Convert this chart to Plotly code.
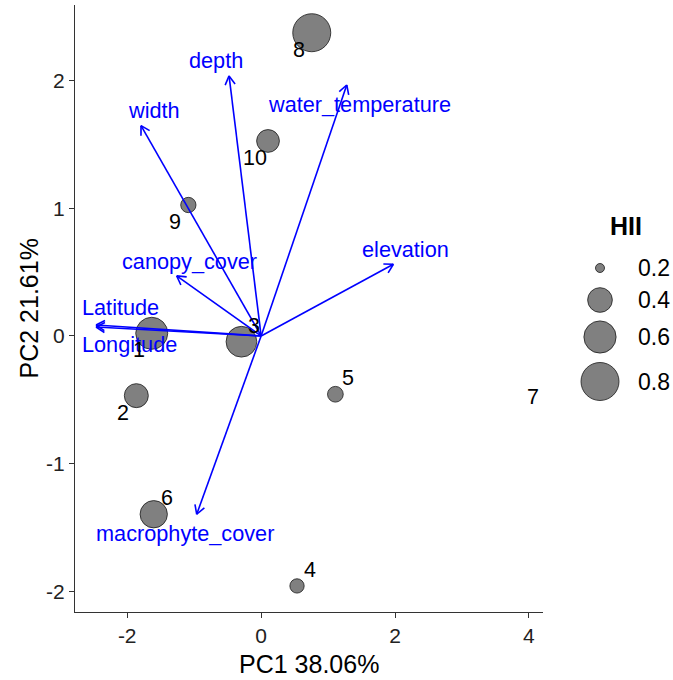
import math
import plotly.graph_objects as go

# ---------------- data ----------------
sites = ["1", "2", "3", "4", "5", "6", "7", "8", "9", "10"]
pc1 = [-1.634, -1.864, -0.294, 0.536, 1.109, -1.604, 3.870, 0.756, -1.087, 0.103]
pc2 = [0.021, -0.467, -0.045, -1.956, -0.456, -1.395, -0.600, 2.373, 1.025, 1.526]
hii = [0.594, 0.385, 0.555, 0.235, 0.250, 0.462, None, 0.800, 0.245, 0.360]

variables = ["depth", "width", "water_temperature", "elevation", "canopy_cover",
             "Latitude", "Longitude", "macrophyte_cover"]
load_pc1 = [-0.479, -1.794, 1.279, 1.975, -1.261, -2.466, -2.466, -0.962]
load_pc2 = [2.035, 1.646, 1.964, 0.561, 0.470, 0.086, 0.070, -1.395]

legend_values = [0.2, 0.4, 0.6, 0.8]
legend_labels = ["0.2", "0.4", "0.6", "0.8"]
x_ticks = [-2, 0, 2, 4]
x_tick_labels = ["-2", "0", "2", "4"]
y_ticks = [-2, -1, 0, 1, 2]
y_tick_labels = ["-2", "-1", "0", "1", "2"]
x_title = "PC1 38.06%"
y_title = "PC2 21.61%"
legend_title = "HII"

# ---------------- style / layout ----------------
W, H = 673, 680
ML, MR, MT, MB = 75, 0, 5, 68
PLOT_RIGHT = 543           # px where the panel ends
XR = [-2.78, 4.21]
YR = [-2.16, 2.59]
FONT = "Liberation Sans"
BLUE = "#0000FF"
GREY = "#808080"

# point label side: lower-left or upper-right of the point
label_side = {"1": "ll", "2": "ll", "3": "ur", "4": "ur", "5": "ur", "6": "ur",
              "7": "ur", "8": "ll", "9": "ll", "10": "ll"}
side_shift = {"ll": (-13, 17), "ur": (13, -16)}
# arrow label offset (px right, px down) from tip
arrow_label_shift = {"depth": (-13.5, -15), "width": (13, -15),
                     "water_temperature": (13, 19.5), "elevation": (11.7, -14.3),
                     "canopy_cover": (12.5, -14), "Latitude": (24, -17.5),
                     "Longitude": (33.5, 17.5), "macrophyte_cover": (-12, 19)}

paper_w = W - ML - MR
paper_h = H - MT - MB
panel_w = PLOT_RIGHT - ML
sx = panel_w / (XR[1] - XR[0])
sy = paper_h / (YR[1] - YR[0])


def size_px(v, lo=0.195, hi=0.85, d0=6.1, k=33.2):
    return d0 + k * math.sqrt(max(v - lo, 0) / (hi - lo))


def px_to_paper_x(px):
    return (px - ML) / paper_w


def px_to_paper_y(py):
    return (H - MB - py) / paper_h


fig = go.Figure()

# points
px_, py_, ps_ = [], [], []
for s, x, y, h in zip(sites, pc1, pc2, hii):
    if h is None:
        continue
    px_.append(x); py_.append(y); ps_.append(size_px(h))
fig.add_trace(go.Scatter(x=px_, y=py_, mode="markers",
                         marker=dict(size=ps_, color=GREY, opacity=1,
                                     line=dict(color="#1a1a1a", width=0.8)),
                         showlegend=False, hoverinfo="skip"))

# arrows (shafts + open heads)
ax, ay = [], []
head_len, head_ang = 10, math.radians(30)
for lx, ly in zip(load_pc1, load_pc2):
    ax += [0, lx, None]
    ay += [0, ly, None]
    dxp, dyp = lx * sx, ly * sy
    n = math.hypot(dxp, dyp)
    ux, uy = dxp / n, dyp / n
    for sgn in (1, -1):
        c, s_ = math.cos(sgn * head_ang), math.sin(sgn * head_ang)
        rx = ux * c - uy * s_
        ry = ux * s_ + uy * c
        ex = lx - head_len * rx / sx
        ey = ly - head_len * ry / sy
        ax += [ex, lx, None]
        ay += [ey, ly, None]
fig.add_trace(go.Scatter(x=ax, y=ay, mode="lines",
                         line=dict(color=BLUE, width=1.6),
                         showlegend=False, hoverinfo="skip"))

annotations = []
# arrow labels
for v, lx, ly in zip(variables, load_pc1, load_pc2):
    dx, dy = arrow_label_shift[v]
    annotations.append(dict(x=lx, y=ly, xref="x", yref="y", text=v, showarrow=False,
                            xshift=dx, yshift=-dy, xanchor="center", yanchor="middle",
                            font=dict(family=FONT, size=21.7, color=BLUE)))
# point labels
for s, x, y in zip(sites, pc1, pc2):
    dx, dy = side_shift[label_side[s]]
    annotations.append(dict(x=x, y=y, xref="x", yref="y", text=s, showarrow=False,
                            xshift=dx, yshift=-dy, xanchor="center", yanchor="middle",
                            font=dict(family=FONT, size=21.5, color="black")))
# axis titles
annotations.append(dict(x=px_to_paper_x((ML + PLOT_RIGHT) / 2), y=px_to_paper_y(664),
                        xref="paper", yref="paper", text=x_title, showarrow=False,
                        xanchor="center", yanchor="middle",
                        font=dict(family=FONT, size=25, color="black")))
annotations.append(dict(x=px_to_paper_x(28), y=px_to_paper_y((MT + H - MB) / 2),
                        xref="paper", yref="paper", text=y_title, showarrow=False,
                        textangle=-90, xanchor="center", yanchor="middle",
                        font=dict(family=FONT, size=25, color="black")))

# manual size legend (pixel coordinates on a helper axis pair)
leg_x0 = 560
key_cx = 600
key_cy = [268, 300, 337, 381.5]
fig.add_trace(go.Scatter(x=[key_cx] * len(legend_values), y=key_cy, mode="markers",
                         xaxis="x2", yaxis="y2",
                         marker=dict(size=[size_px(v) for v in legend_values], color=GREY,
                                     opacity=1, line=dict(color="#1a1a1a", width=0.8)),
                         showlegend=False, hoverinfo="skip"))
for lab, cy in zip(legend_labels, key_cy):
    annotations.append(dict(x=636, y=cy, xref="x2", yref="y2", text=lab, showarrow=False,
                            xanchor="left", yanchor="middle",
                            font=dict(family=FONT, size=23, color="black")))
annotations.append(dict(x=626, y=226, xref="x2", yref="y2", text="<b>%s</b>" % legend_title,
                        showarrow=False, xanchor="center", yanchor="middle",
                        font=dict(family=FONT, size=25, color="black")))

axis_common = dict(showgrid=False, zeroline=False, showline=True, linecolor="#333333",
                   linewidth=1.3, ticks="outside", ticklen=5, tickwidth=1.2,
                   tickcolor="#333333",
                   tickfont=dict(family=FONT, size=21, color="#222222"))

fig.update_layout(
    width=W, height=H, autosize=False,
    margin=dict(l=ML, r=MR, t=MT, b=MB, pad=0),
    paper_bgcolor="white", plot_bgcolor="white",
    showlegend=False,
    xaxis=dict(domain=[0, panel_w / paper_w], range=XR, tickvals=x_ticks,
               ticktext=x_tick_labels, automargin=False, **axis_common),
    yaxis=dict(domain=[0, 1], range=YR, tickvals=y_ticks, ticktext=y_tick_labels,
               automargin=False, **axis_common),
    xaxis2=dict(domain=[px_to_paper_x(leg_x0), 1], range=[leg_x0, W], visible=False,
                anchor="y2"),
    yaxis2=dict(domain=[0, 1], range=[H - MB, MT], visible=False, anchor="x2"),
    annotations=annotations,
)

fig.write_html("out.html", config={"displayModeBar": False},
               post_script="document.body.style.margin='0';document.body.style.overflow='hidden';")
